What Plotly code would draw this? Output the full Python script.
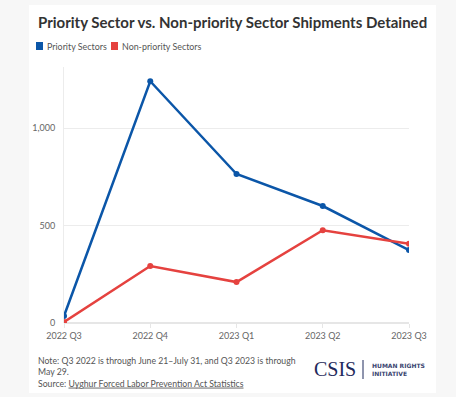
import plotly.graph_objects as go

quarters = ["2022 Q3", "2022 Q4", "2023 Q1", "2023 Q2", "2023 Q3"]
priority = [36, 1240, 764, 600, 374]
non_priority = [5, 292, 210, 476, 407]
y_ticks = [0, 500, 1000]
y_tick_labels = ["0", "500", "1,000"]

BLUE = "#0b56a8"
RED = "#e5423f"
W, H = 456, 397
L, R, T, B = 64, 47, 67, 74
pw, ph = W - L - R, H - T - B

def px(x):
    return (x - L) / pw

def py(y):
    return (H - B - y) / ph

fig = go.Figure()
fig.add_trace(go.Scatter(x=quarters, y=priority, mode="lines+markers", name="Priority Sectors",
                         line=dict(color=BLUE, width=2.5), marker=dict(size=6, color=BLUE)))
fig.add_trace(go.Scatter(x=quarters, y=non_priority, mode="lines+markers", name="Non-priority Sectors",
                         line=dict(color=RED, width=2.5), marker=dict(size=6, color=RED)))

font_main = "Lato, 'Source Sans Pro', 'Noto Sans', sans-serif"

shapes = [
    dict(type="rect", xref="paper", yref="paper", x0=px(29), x1=px(436), y0=py(393), y1=py(5),
         fillcolor="white", line=dict(width=0), layer="below"),
    dict(type="rect", xref="paper", yref="paper", x0=px(36), x1=px(43), y0=py(50), y1=py(42),
         fillcolor=BLUE, line=dict(width=0)),
    dict(type="rect", xref="paper", yref="paper", x0=px(111), x1=px(118), y0=py(50), y1=py(42),
         fillcolor=RED, line=dict(width=0)),
    dict(type="line", xref="paper", yref="paper", x0=px(363), x1=px(363), y0=py(379), y1=py(360),
         line=dict(color="#1f2a5c", width=1)),
]

annotations = [
    dict(text="<b>Priority Sector vs. Non-priority Sector Shipments Detained</b>", x=px(36), y=py(22),
         xref="paper", yref="paper", xanchor="left", yanchor="middle", showarrow=False,
         font=dict(size=15, color="#333333", family=font_main)),
    dict(text="Priority Sectors", x=px(45), y=py(46), xref="paper", yref="paper", xanchor="left",
         yanchor="middle", showarrow=False, font=dict(size=8.9, color="#555555", family=font_main)),
    dict(text="Non-priority Sectors", x=px(120), y=py(46), xref="paper", yref="paper", xanchor="left",
         yanchor="middle", showarrow=False, font=dict(size=8.9, color="#555555", family=font_main)),
    dict(text="Note: Q3 2022 is through June 21–July 31, and Q3 2023 is through<br>May 29.<br>"
              "Source: <u>Uyghur Forced Labor Prevention Act Statistics</u>",
         x=px(36), y=py(353), xref="paper", yref="paper", xanchor="left", yanchor="top",
         align="left", showarrow=False, font=dict(size=8.7, color="#555555", family=font_main)),
    dict(text="CSIS", x=px(335), y=py(369), xref="paper", yref="paper", xanchor="center",
         yanchor="middle", showarrow=False,
         font=dict(size=20, color="#1f2a5c", family="'Liberation Serif', 'DejaVu Serif', serif")),
    dict(text="<b>HUMAN RIGHTS<br>INITIATIVE</b>", x=px(370), y=py(369), xref="paper", yref="paper",
         xanchor="left", yanchor="middle", align="left", showarrow=False,
         font=dict(size=6, color="#3a4470", family="'DejaVu Sans', sans-serif")),
]

fig.update_layout(
    width=W, height=H,
    margin=dict(l=L, r=R, t=T, b=B),
    paper_bgcolor="#f7f7f7",
    plot_bgcolor="white",
    showlegend=False,
    shapes=shapes,
    annotations=annotations,
    font=dict(family=font_main, size=9, color="#666666"),
    xaxis=dict(type="category", range=[0, 4], showgrid=False, zeroline=False, showline=False,
               ticks="outside", ticklen=4, tickcolor="#e6e6e6", tickfont=dict(size=9, color="#666666")),
    yaxis=dict(range=[0, 1313], tickvals=y_ticks, ticktext=y_tick_labels, showgrid=True,
               gridcolor="#ececec", gridwidth=1, zeroline=True, zerolinecolor="#e6e6e6",
               showline=True, linecolor="#ececec", ticks="", ticklabelstandoff=6,
               tickfont=dict(size=9, color="#666666")),
)

fig.write_html("out.html", config={"displayModeBar": False})
with open("out.html", encoding="utf-8") as f:
    html = f.read()
html = html.replace("<head>", "<head><style>html,body{margin:0;padding:0;overflow:hidden;}</style>", 1)
with open("out.html", "w", encoding="utf-8") as f:
    f.write(html)
